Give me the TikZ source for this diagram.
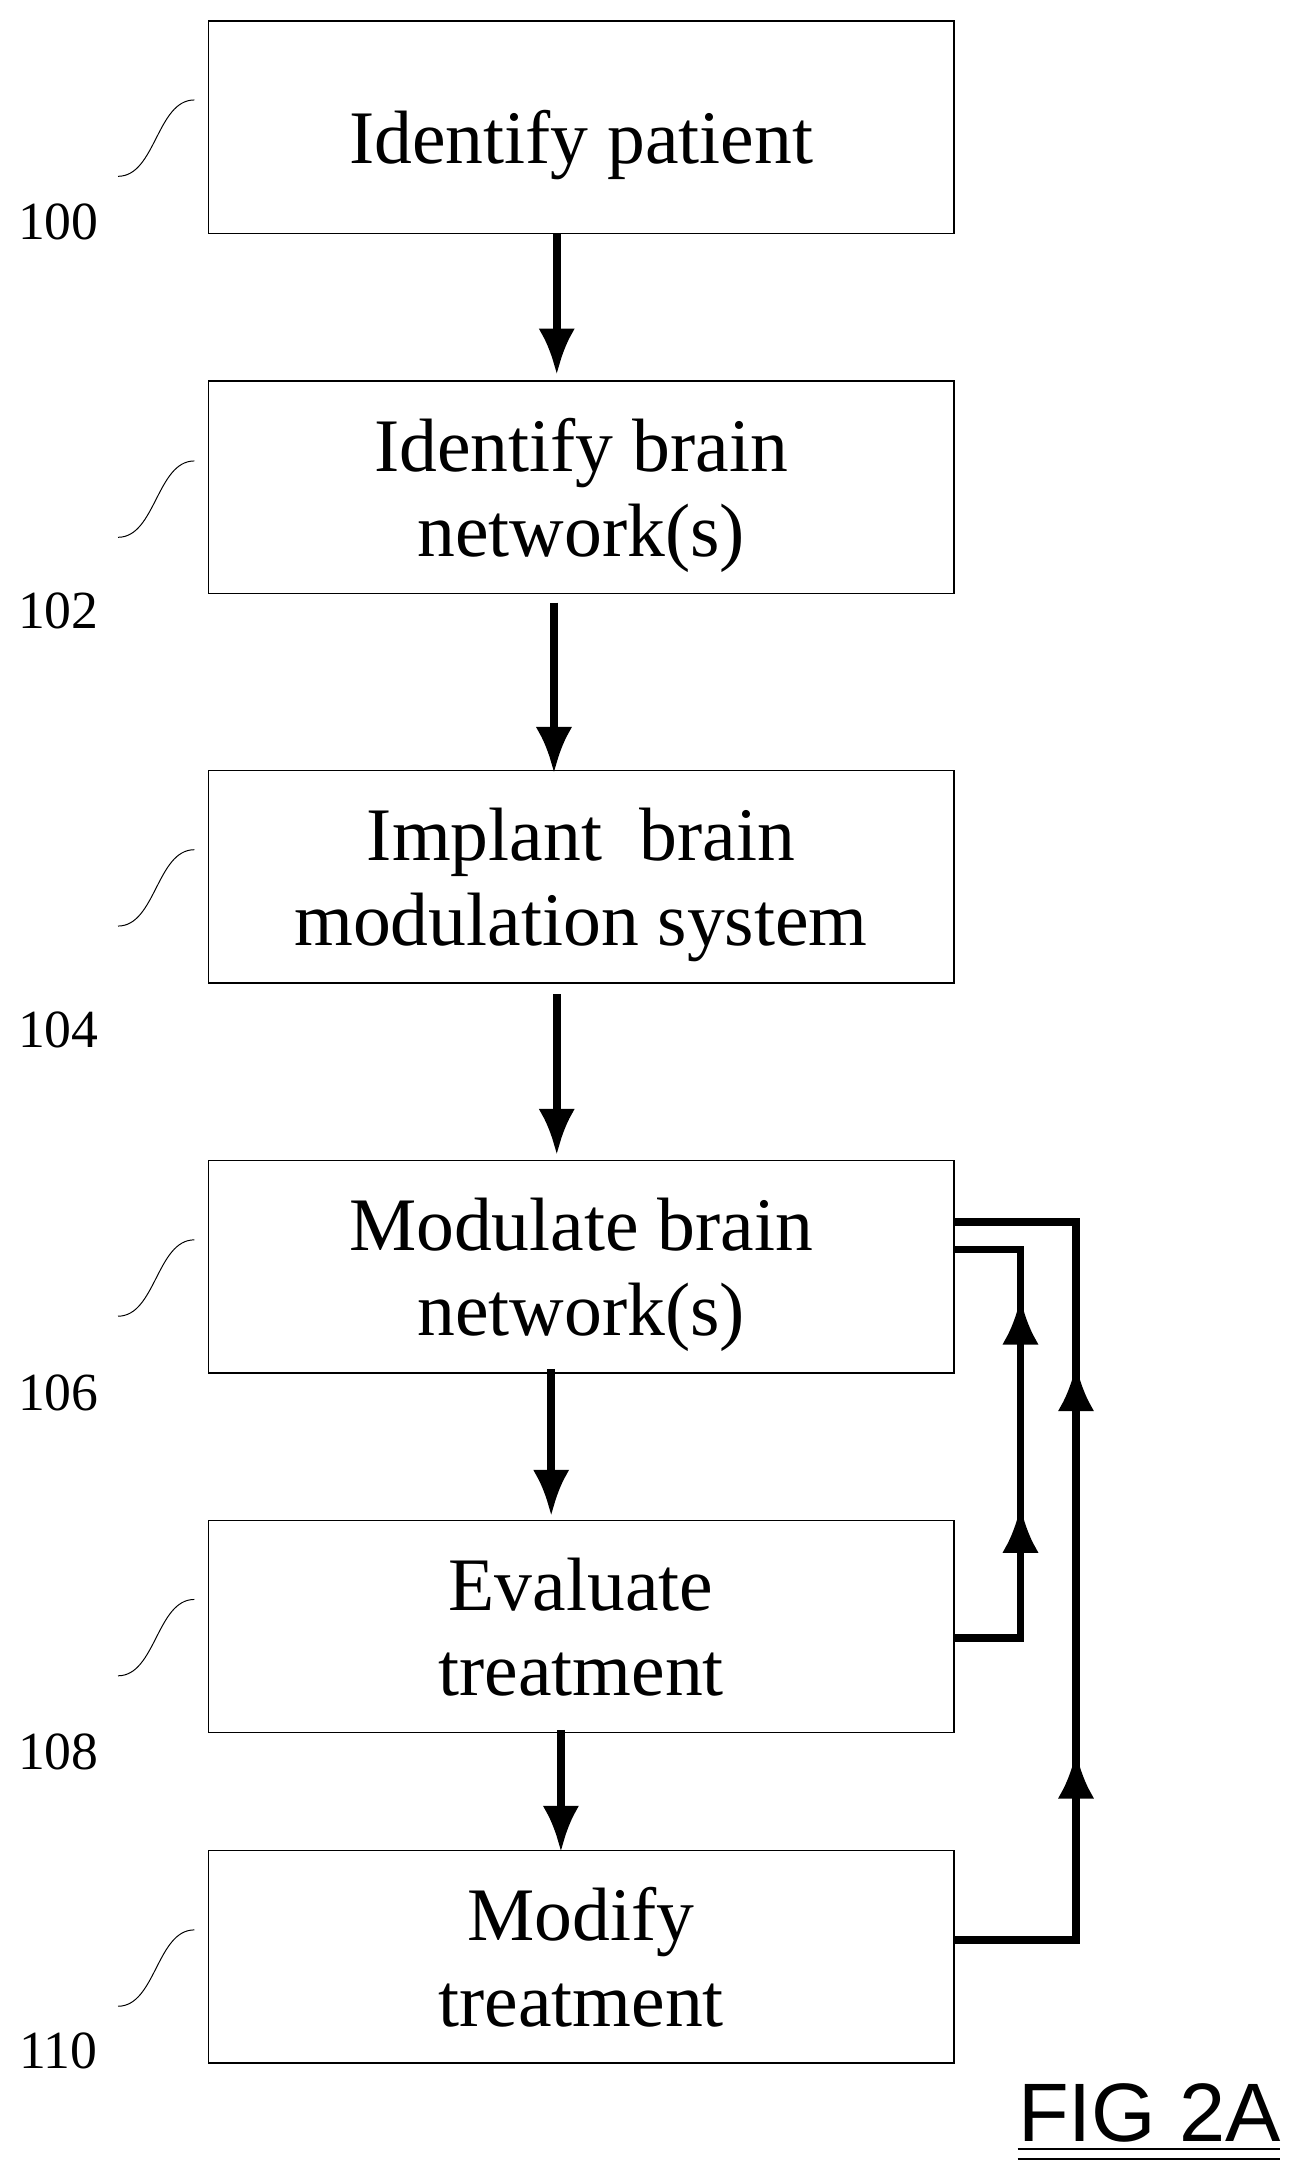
\documentclass[tikz,border=0pt]{standalone}
\usepackage{fontspec}
\setmainfont{Liberation Serif}
\setsansfont{Liberation Sans}
\usetikzlibrary{arrows.meta}
\begin{document}
\begin{tikzpicture}[x=0.02cm,y=-0.02cm,
  stage/.style={draw,line width=0.6pt,minimum width=537*0.02cm,minimum height=153*0.02cm,
    align=center,font=\fontsize{31}{35}\selectfont,inner sep=0pt,text depth=0pt},
  num/.style={font=\fontsize{22}{26}\selectfont},
  flow/.style={line width=3.2pt,-{Latex[length=19pt,width=15pt]}}]
\useasboundingbox (0,0) rectangle (937,1568);
\node[stage] (b100) at (418.5,91.5) {\raisebox{-8pt}{Identify patient}};
\node[stage] (b102) at (418.5,351) {Identify brain\\network(s)};
\node[stage] (b104) at (418.5,631.5) {Implant~ brain\\modulation system};
\node[stage] (b106) at (418.5,912.5) {Modulate brain\\network(s)};
\node[stage] (b108) at (418.5,1171.5) {Evaluate\\treatment};
\node[stage] (b110) at (418.5,1409.5) {Modify\\treatment};
% reference numbers
\foreach \n/\y/\t in {100/91/160,102/351/440,104/631/742,106/912/1003,108/1171/1262,110/1409/1477}{
  \node[num] (n\n) at (42,\t) {\n};
  \draw[line width=0.4pt] (85,\y+36) .. controls (112,\y+36) and (113,\y-19) .. (140,\y-19);
}
% main flow
\draw[flow] (401,168) -- (401,270);
\draw[flow] (399,434) -- (399,557);
\draw[flow] (401,716) -- (401,832);
\draw[flow] (397,986) -- (397,1092);
\draw[flow] (404,1246) -- (404,1334);
% feedback loops
\coordinate (e1) at (687,1180);
\coordinate (e2) at (735,1180);
\coordinate (e3) at (735,1085);
\coordinate (e4) at (735,900);
\coordinate (e5) at (687,900);
\draw[line width=3.2pt] (e1) -- (e2) -- (e4) -- (e5);
\draw[flow] (e2) -- (e3);
\draw[flow] (735,1000) -- (735,935);
\coordinate (m1) at (687,1397);
\coordinate (m2) at (775,1397);
\coordinate (m3) at (775,880);
\coordinate (m4) at (687,880);
\draw[line width=3.2pt] (m1) -- (m2) -- (m3) -- (m4);
\draw[flow] (775,1330) -- (775,1262);
\draw[flow] (775,1050) -- (775,983);
% figure label
\node[font=\sffamily\fontsize{34}{40}\selectfont] (fig) at (828,1522) {FIG 2A};
\draw[line width=1pt] (733,1548) -- (922,1548);
\draw[line width=1pt] (733,1555) -- (922,1555);
\end{tikzpicture}
\end{document}
